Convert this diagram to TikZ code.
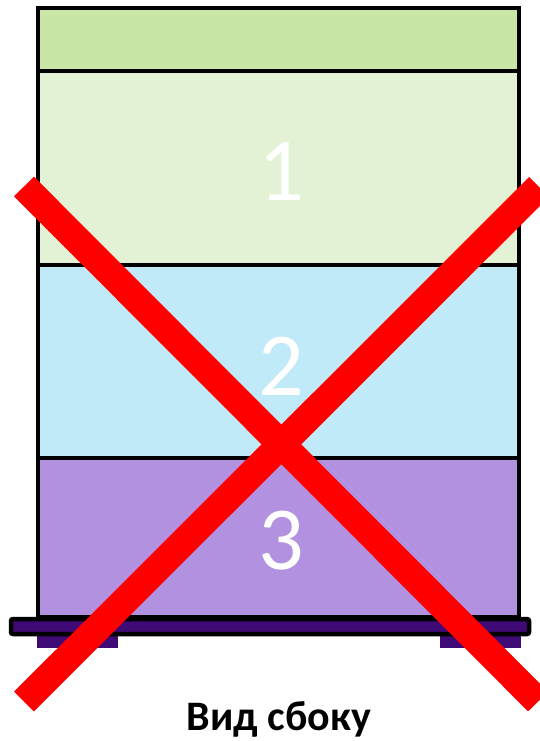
\documentclass[tikz,border=0pt]{standalone}
\usepackage{fontspec}
\setmainfont{Carlito}
\definecolor{topband}{RGB}{201,230,167}
\definecolor{layerone}{RGB}{227,241,213}
\definecolor{layertwo}{RGB}{193,234,248}
\definecolor{layerthree}{RGB}{179,145,225}
\definecolor{plate}{RGB}{63,10,118}
\definecolor{crossred}{RGB}{255,0,0}
\tikzset{
  layer/.style={draw=black, line width=4.5pt},
  numlabel/.style={text=white, font=\fontsize{90}{90}\selectfont, inner sep=0pt, anchor=center},
  crossline/.style={draw=crossred, line width=28pt},
}
\begin{document}
\begin{tikzpicture}[x=1pt,y=-1pt]
\useasboundingbox (0,0) rectangle (540,741);
% hive body layers
\path[layer, fill=topband] (38,8) rectangle (519,71);
\path[layer, fill=layerone] (38,71) rectangle (519,265);
\path[layer, fill=layertwo] (38,265) rectangle (519,458);
\path[layer, fill=layerthree] (38,458) rectangle (519,617);
% feet
\fill[plate] (37,632) rectangle (118,648);
\fill[plate] (440,632) rectangle (521,648);
% base plate
\path[draw=black, line width=4.5pt, fill=plate, rounded corners=2pt] (11,619) rectangle (529,634);
% numbers
\node[numlabel] (n1) at (281,172) {1};
\node[numlabel] (n2) at (281,366) {2};
\node[numlabel] (n3) at (281,541) {3};
% red cross
\coordinate (c1a) at (24,186.5);
\coordinate (c1b) at (538,701.5);
\coordinate (c2a) at (539,187);
\coordinate (c2b) at (24,701.5);
\draw[crossline] (c1a) -- (c1b);
\draw[crossline] (c2a) -- (c2b);
% caption
\node[font=\bfseries\fontsize{42}{42}\selectfont, anchor=center] (cap) at (279,719) {Вид сбоку};
\end{tikzpicture}
\end{document}
